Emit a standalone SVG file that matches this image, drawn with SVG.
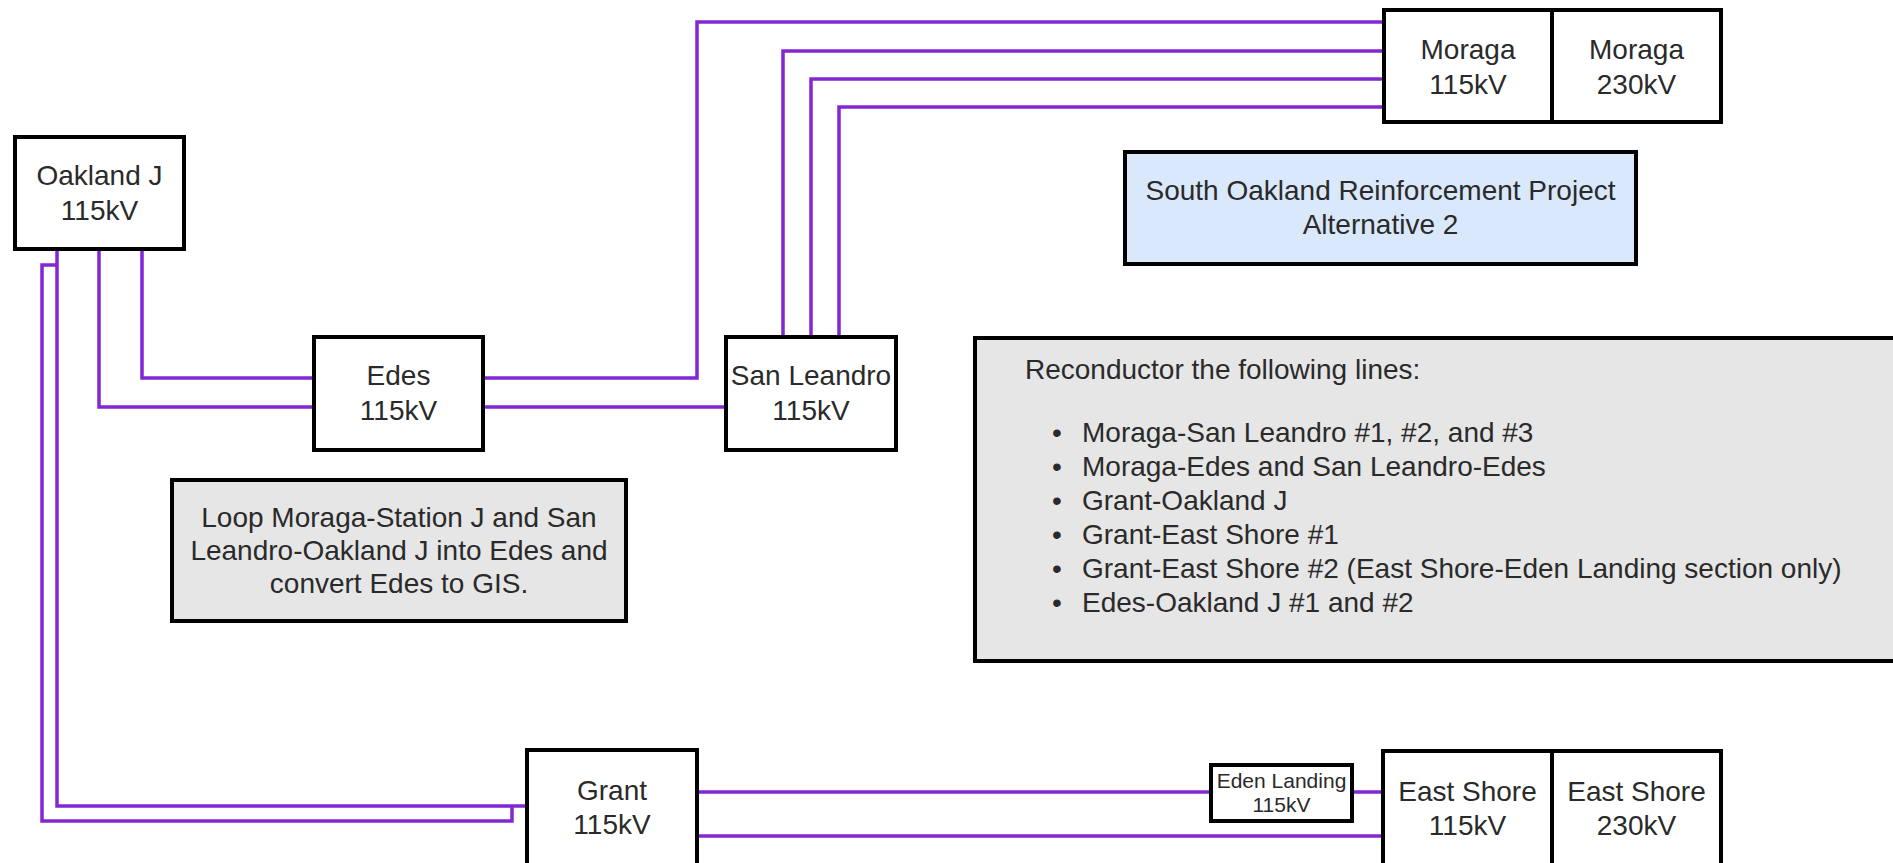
<svg xmlns="http://www.w3.org/2000/svg" width="1893" height="863" viewBox="0 0 1893 863">
<style>
.box{fill:#ffffff;stroke:#000000;stroke-width:4}
.gray{fill:#e6e6e6;stroke:#000000;stroke-width:4}
.blue{fill:#dae8fc;stroke:#000000;stroke-width:4}
.wire{fill:none;stroke:#8326d4;stroke-width:3.5;stroke-linejoin:miter}
text{font-family:"Liberation Sans",Arial,Helvetica,sans-serif;font-size:28px;fill:#2a2a2a}
.c{text-anchor:middle}
.sm{font-size:21px}
</style>
<rect width="1893" height="863" fill="#ffffff"/>
<g id="connectors">
<path class="wire" d="M142,250 V378 H313"/>
<path class="wire" d="M99,250 V407 H313"/>
<path class="wire" d="M57,250 V806 H525"/>
<path class="wire" d="M57,265 H42 V821 H512 V806"/>
<path class="wire" d="M484,378 H697 V22 H1382"/>
<path class="wire" d="M484,407 H724"/>
<path class="wire" d="M783,335 V51 H1382"/>
<path class="wire" d="M811,335 V79 H1382"/>
<path class="wire" d="M839,335 V107 H1382"/>
<path class="wire" d="M698,792 H1209"/>
<path class="wire" d="M1353,792 H1381"/>
<path class="wire" d="M698,836 H1381"/>
</g>
<g id="oakland-j">
<rect class="box" x="15" y="137" width="169" height="112"/>
<text class="c" x="99.5" y="185">Oakland J</text>
<text class="c" x="99.5" y="220">115kV</text>
</g>
<g id="edes">
<rect class="box" x="314" y="337" width="169" height="113"/>
<text class="c" x="398.5" y="385">Edes</text>
<text class="c" x="398.5" y="420">115kV</text>
</g>
<g id="san-leandro">
<rect class="box" x="726" y="337" width="170" height="113"/>
<text class="c" x="811" y="385">San Leandro</text>
<text class="c" x="811" y="420">115kV</text>
</g>
<g id="moraga-115">
<rect class="box" x="1384" y="10" width="168" height="112"/>
<text class="c" x="1468" y="59">Moraga</text>
<text class="c" x="1468" y="94">115kV</text>
</g>
<g id="moraga-230">
<rect class="box" x="1552" y="10" width="169" height="112"/>
<text class="c" x="1636.5" y="59">Moraga</text>
<text class="c" x="1636.5" y="94">230kV</text>
</g>
<g id="title">
<rect class="blue" x="1125" y="152" width="511" height="112"/>
<text class="c" x="1380.5" y="200">South Oakland Reinforcement Project</text>
<text class="c" x="1380.5" y="234">Alternative 2</text>
</g>
<g id="loop-note">
<rect class="gray" x="172" y="480" width="454" height="141"/>
<text class="c" x="399" y="527">Loop Moraga-Station J and San</text>
<text class="c" x="399" y="560">Leandro-Oakland J into Edes and</text>
<text class="c" x="399" y="593">convert Edes to GIS.</text>
</g>
<g id="reconductor-note">
<rect class="gray" x="975" y="338" width="1000" height="323"/>
<text x="1025" y="379">Reconductor the following lines:</text>
<text x="1052" y="442">•</text><text x="1082" y="442">Moraga-San Leandro #1, #2, and #3</text>
<text x="1052" y="476">•</text><text x="1082" y="476">Moraga-Edes and San Leandro-Edes</text>
<text x="1052" y="510">•</text><text x="1082" y="510">Grant-Oakland J</text>
<text x="1052" y="544">•</text><text x="1082" y="544">Grant-East Shore #1</text>
<text x="1052" y="578">•</text><text x="1082" y="578">Grant-East Shore #2 (East Shore-Eden Landing section only)</text>
<text x="1052" y="612">•</text><text x="1082" y="612">Edes-Oakland J #1 and #2</text>
</g>
<g id="grant">
<rect class="box" x="527" y="750" width="170" height="118"/>
<text class="c" x="612" y="800">Grant</text>
<text class="c" x="612" y="834">115kV</text>
</g>
<g id="eden-landing">
<rect class="box" x="1211" y="765" width="141" height="56"/>
<text class="c sm" x="1281.5" y="788">Eden Landing</text>
<text class="c sm" x="1281.5" y="812">115kV</text>
</g>
<g id="east-shore-115">
<rect class="box" x="1383" y="751" width="169" height="118"/>
<text class="c" x="1467.5" y="801">East Shore</text>
<text class="c" x="1467.5" y="835">115kV</text>
</g>
<g id="east-shore-230">
<rect class="box" x="1552" y="751" width="169" height="118"/>
<text class="c" x="1636.5" y="801">East Shore</text>
<text class="c" x="1636.5" y="835">230kV</text>
</g>
</svg>
